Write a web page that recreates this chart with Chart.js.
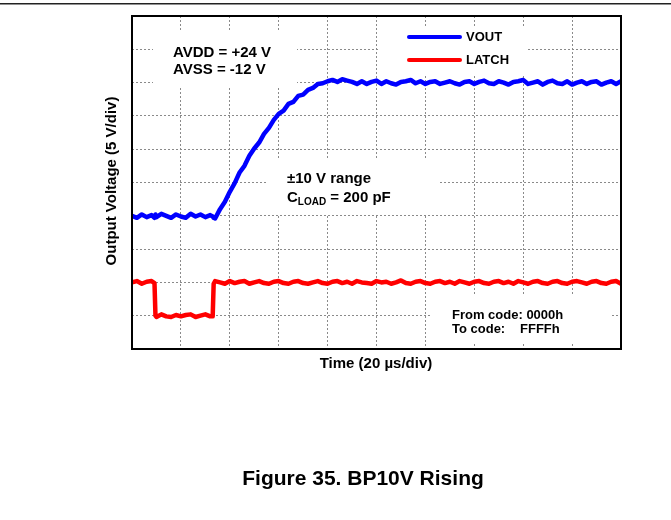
<!DOCTYPE html>
<html>
<head>
<meta charset="utf-8">
<script src="https://cdn.jsdelivr.net/npm/chart.js@4/dist/chart.umd.min.js"></script>
<style>
  body { margin: 0; background: #fff; }
  canvas { display: block; }
</style>
</head>
<body>
<canvas id="scope" width="671" height="520"></canvas>
<script>
// time base, µs (20 µs/div, 10 divisions)
const timeUs = [
  0, 2, 4, 6, 8, 9.2, 9.6,
  10, 12, 14, 16, 18, 20, 22, 24, 26, 28, 30, 32, 33, 33.4,
  34, 36, 38, 40, 42, 44, 46, 48, 50, 52, 54, 56, 58, 60, 62, 64, 66, 68, 70, 72,
  74, 76, 78, 80, 82, 84, 86, 88, 90, 92, 94, 96, 98, 100, 102, 104, 106, 108, 110, 112,
  114, 116, 118, 120, 122, 124, 126, 128, 130, 132, 134, 136, 138, 140, 142, 144, 146, 148, 150, 152,
  154, 156, 158, 160, 162, 164, 166, 168, 170, 172, 174, 176, 178, 180, 182, 184, 186, 188, 190, 192,
  194, 196, 198, 200
];

// output voltage, V
const vout = [
  -10.0, -10.3, -9.8, -10.2, -9.9, -10.3, -9.8,
  -10.2, -9.7, -10.0, -10.3, -9.8, -10.1, -10.3, -9.7, -10.1, -9.8, -10.2, -9.9, -10.1, -10.3,
  -10.4, -9.0, -7.9, -6.4, -5.1, -3.5, -2.5, -1.0, 0.1, 1.0, 2.3, 3.2, 4.4, 5.3, 5.8, 6.8, 7.1, 8.0, 8.2, 8.9,
  9.2, 9.8, 9.9, 10.2, 10.4, 10.1, 10.5, 10.3, 10.1, 9.8, 10.2, 9.8, 10.1, 10.3, 9.8, 10.2, 9.9, 9.7, 10.1, 10.2,
  10.4, 9.9, 10.2, 9.8, 10.1, 10.2, 9.8, 10.0, 10.2, 9.9, 9.7, 10.1, 10.2, 9.8, 10.1, 10.3, 9.9, 9.8, 10.2, 10.0,
  9.7, 10.1, 10.2, 10.4, 9.8, 10.0, 10.2, 9.7, 10.1, 10.3, 9.9, 9.8, 10.2, 9.7, 10.0, 10.2, 9.8, 10.1, 10.2, 9.7,
  10.0, 10.2, 9.8, 10.2
];

// latch signal as seen on the scope (offset trace), V
const latch = [
  -20.0, -19.8, -20.2, -19.9, -19.8, -20.1, -25.0,
  -25.2, -24.8, -25.1, -25.2, -24.9, -25.1, -24.9, -24.8, -25.2, -25.0, -24.8, -25.1, -25.1, -20.2,
  -19.8, -20.0, -20.2, -19.8, -20.1, -19.9, -19.8, -20.2, -20.0, -19.8, -20.1, -20.2, -19.9, -19.8, -20.1, -20.2, -19.9, -19.8, -20.1, -20.2,
  -20.0, -19.8, -20.1, -20.2, -19.9, -19.8, -20.1, -19.9, -20.2, -19.8, -20.0, -20.1, -20.2, -19.8, -20.0, -19.9, -20.2, -20.0, -19.7, -20.1,
  -20.2, -19.9, -19.8, -20.1, -20.2, -19.9, -19.8, -20.1, -19.9, -20.2, -19.8, -20.0, -20.2, -19.9, -19.8, -20.1, -20.2, -19.9, -19.8, -20.1,
  -19.9, -20.2, -19.8, -20.0, -20.2, -19.9, -19.8, -20.1, -20.2, -19.9, -19.8, -20.1, -20.2, -19.9, -19.8, -20.0, -20.2, -19.9, -19.8, -20.1,
  -20.2, -19.9, -19.8, -20.2
];

const seriesNames = ["VOUT", "LATCH"];
const seriesColors = ["#0000ff", "#ff0000"];

const FONT = "'Liberation Sans', Arial, sans-serif";

// white label patches that hide the grid behind the annotations
const labelBoxes = [
  [153, 32, 144, 56],
  [380, 26, 148, 48],
  [267, 158, 172, 56],
  [432, 295, 180, 47]
];

const scopeDecor = {
  id: "scopeDecor",
  beforeDatasetsDraw(chart) {
    const ctx = chart.ctx;
    ctx.save();
    ctx.fillStyle = "#fff";
    labelBoxes.forEach(b => ctx.fillRect(b[0], b[1], b[2], b[3]));
    ctx.restore();
  },
  afterDatasetsDraw(chart) {
    const { ctx, chartArea: a } = chart;
    ctx.save();
    ctx.strokeStyle = "#000";
    ctx.lineWidth = 2;
    ctx.strokeRect(a.left, a.top, a.right - a.left, a.bottom - a.top);
    ctx.restore();
  },
  afterDraw(chart) {
    const ctx = chart.ctx;
    ctx.save();

    // page rule at the top
    ctx.fillStyle = "#222";
    ctx.fillRect(0, 3, 671, 1.5);

    ctx.fillStyle = "#000";
    ctx.textBaseline = "alphabetic";
    ctx.textAlign = "left";

    ctx.font = "bold 15px " + FONT;
    ctx.fillText("AVDD = +24 V", 173, 57);
    ctx.fillText("AVSS = -12 V", 173, 74);
    ctx.fillText("\u00b110 V range", 287, 183);

    // C with LOAD subscript
    let x = 287;
    ctx.fillText("C", x, 202);
    x += ctx.measureText("C").width;
    ctx.font = "bold 10px " + FONT;
    ctx.fillText("LOAD", x, 205);
    x += ctx.measureText("LOAD").width;
    ctx.font = "bold 15px " + FONT;
    ctx.fillText(" = 200 pF", x, 202);

    ctx.font = "bold 13px " + FONT;
    ctx.fillText("From code: 0000h", 452, 319);
    ctx.fillText("To code:", 452, 333);
    ctx.fillText("FFFFh", 520, 333);

    // legend
    const legendY = [37, 60];
    chart.data.datasets.forEach((ds, i) => {
      ctx.strokeStyle = ds.borderColor;
      ctx.lineWidth = 4;
      ctx.lineCap = "round";
      ctx.beginPath();
      ctx.moveTo(409, legendY[i]);
      ctx.lineTo(460, legendY[i]);
      ctx.stroke();
      ctx.fillStyle = "#000";
      ctx.font = "bold 13px " + FONT;
      ctx.textBaseline = "middle";
      ctx.fillText(ds.label, 466, legendY[i]);
    });

    // axis titles
    ctx.textBaseline = "alphabetic";
    ctx.textAlign = "center";
    ctx.font = "bold 15px " + FONT;
    ctx.fillText("Time (20 \u00b5s/div)", 376, 368);

    ctx.save();
    ctx.translate(116, 181);
    ctx.rotate(-Math.PI / 2);
    ctx.fillText("Output Voltage (5 V/div)", 0, 0);
    ctx.restore();

    ctx.font = "bold 21px " + FONT;
    ctx.fillText("Figure 35. BP10V Rising", 363, 485);

    ctx.restore();
  }
};

const gridStyle = {
  color: "#8a8a8a",
  lineWidth: 1,
  drawTicks: false
};

new Chart(document.getElementById("scope"), {
  type: "line",
  data: {
    datasets: [
      {
        label: seriesNames[0],
        data: timeUs.map((t, i) => ({ x: t, y: vout[i] })),
        borderColor: seriesColors[0],
      },
      {
        label: seriesNames[1],
        data: timeUs.map((t, i) => ({ x: t, y: latch[i] })),
        borderColor: seriesColors[1],
      },
    ],
  },
  options: {
    responsive: false,
    animation: false,
    layout: { padding: { left: 132, top: 16, right: 50, bottom: 171 } },
    elements: {
      line: { borderWidth: 4.5, tension: 0, borderJoinStyle: "round", borderCapStyle: "round" },
      point: { radius: 0 },
    },
    plugins: {
      legend: { display: false },
      tooltip: { enabled: false },
    },
    scales: {
      x: {
        type: "linear",
        min: 0,
        max: 200,
        ticks: { display: false, stepSize: 20 },
        grid: gridStyle,
        border: { display: false, dash: [2, 2] },
      },
      y: {
        type: "linear",
        min: -30,
        max: 20,
        ticks: { display: false, stepSize: 5 },
        grid: gridStyle,
        border: { display: false, dash: [2, 2] },
      },
    },
  },
  plugins: [scopeDecor],
});
</script>
</body>
</html>
